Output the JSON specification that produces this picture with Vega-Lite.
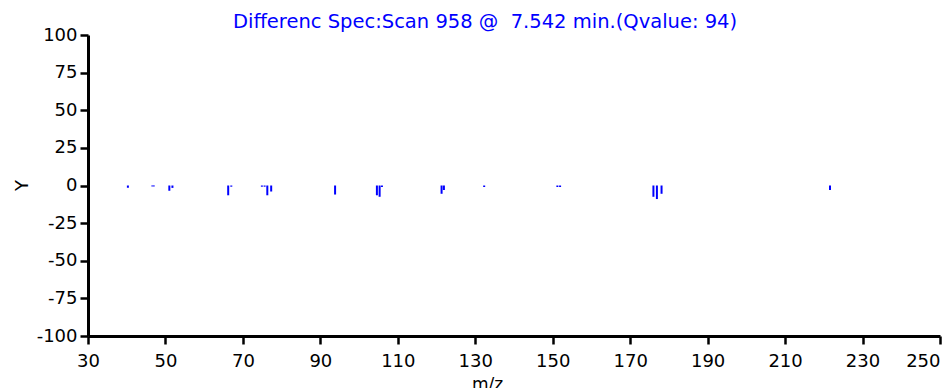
{
  "$schema": "https://vega.github.io/schema/vega-lite/v6.json",
  "autosize": {"type": "none"},
  "padding": {"left": 88, "top": 35, "right": 8, "bottom": 52},
  "width": 852,
  "height": 301,
  "background": "white",
  "config": {"view": {"stroke": null}, "font": "DejaVu Sans"},
  "title": {
    "text": "Differenc Spec:Scan 958 @\u00a0 7.542 min.(Qvalue: 94)",
    "color": "#0000ff",
    "fontSize": 19.5,
    "fontWeight": "normal",
    "font": "DejaVu Sans",
    "anchor": "start",
    "frame": "group",
    "dx": 145,
    "dy": 8,
    "offset": 2
  },
  "data": {
    "values": [
      {"mz": 40.3, "y": -1.5},
      {"mz": 46.6, "y": -0.6},
      {"mz": 47.0, "y": -0.6},
      {"mz": 51.0, "y": -3.5},
      {"mz": 51.8, "y": -1.6},
      {"mz": 66.2, "y": -6.5},
      {"mz": 67.0, "y": -0.8},
      {"mz": 74.9, "y": -0.8},
      {"mz": 75.6, "y": -0.8},
      {"mz": 76.3, "y": -6.5},
      {"mz": 77.3, "y": -4.0},
      {"mz": 93.8, "y": -6.0},
      {"mz": 104.6, "y": -6.5},
      {"mz": 105.3, "y": -7.5},
      {"mz": 105.9, "y": -1.0},
      {"mz": 121.3, "y": -5.5},
      {"mz": 121.9, "y": -3.0},
      {"mz": 132.3, "y": -1.0},
      {"mz": 151.2, "y": -1.0},
      {"mz": 151.9, "y": -1.0},
      {"mz": 176.0, "y": -7.5},
      {"mz": 176.9, "y": -9.0},
      {"mz": 178.1, "y": -5.5},
      {"mz": 221.6, "y": -3.0}
    ]
  },
  "mark": {"type": "rule", "color": "#0000ff", "strokeWidth": 2, "strokeCap": "butt"},
  "encoding": {
    "x": {
      "field": "mz",
      "type": "quantitative",
      "scale": {"domain": [30, 250], "nice": false, "zero": false},
      "axis": {
        "title": "m/z",
        "values": [30, 50, 70, 90, 110, 130, 150, 170, 190, 210, 230, 250],
        "grid": false,
        "domainColor": "black",
        "domainWidth": 3,
        "tickColor": "black",
        "tickWidth": 2.5,
        "tickSize": 8,
        "labelFontSize": 18,
        "labelColor": "black",
        "labelPadding": 8,
        "labelAlign": {"condition": {"test": "datum.value == 250", "value": "right"}, "value": "center"},
        "labelFlush": false,
        "labelOverlap": false,
        "labelBound": false,
        "titleFontSize": 17,
        "titleFontWeight": "normal",
        "titleColor": "black",
        "titleX": 399,
        "titleY": 40,
        "titleBaseline": "top"
      }
    },
    "y": {
      "field": "y",
      "type": "quantitative",
      "scale": {"domain": [-100, 100], "nice": false},
      "axis": {
        "title": "Y",
        "values": [-100, -75, -50, -25, 0, 25, 50, 75, 100],
        "labelExpr": "'' + datum.value",
        "grid": false,
        "domainColor": "black",
        "domainWidth": 3,
        "tickColor": "black",
        "tickWidth": 2.5,
        "tickSize": 8,
        "labelFontSize": 18,
        "labelColor": "black",
        "labelPadding": 3,
        "labelFlush": false,
        "labelOverlap": false,
        "labelBound": false,
        "titleFontSize": 18,
        "titleFontWeight": "normal",
        "titleColor": "black",
        "titleX": -66,
        "titleY": 150,
        "titleAngle": -90,
        "titleAlign": "center",
        "titleBaseline": "middle"
      }
    },
    "y2": {"datum": 0}
  }
}
